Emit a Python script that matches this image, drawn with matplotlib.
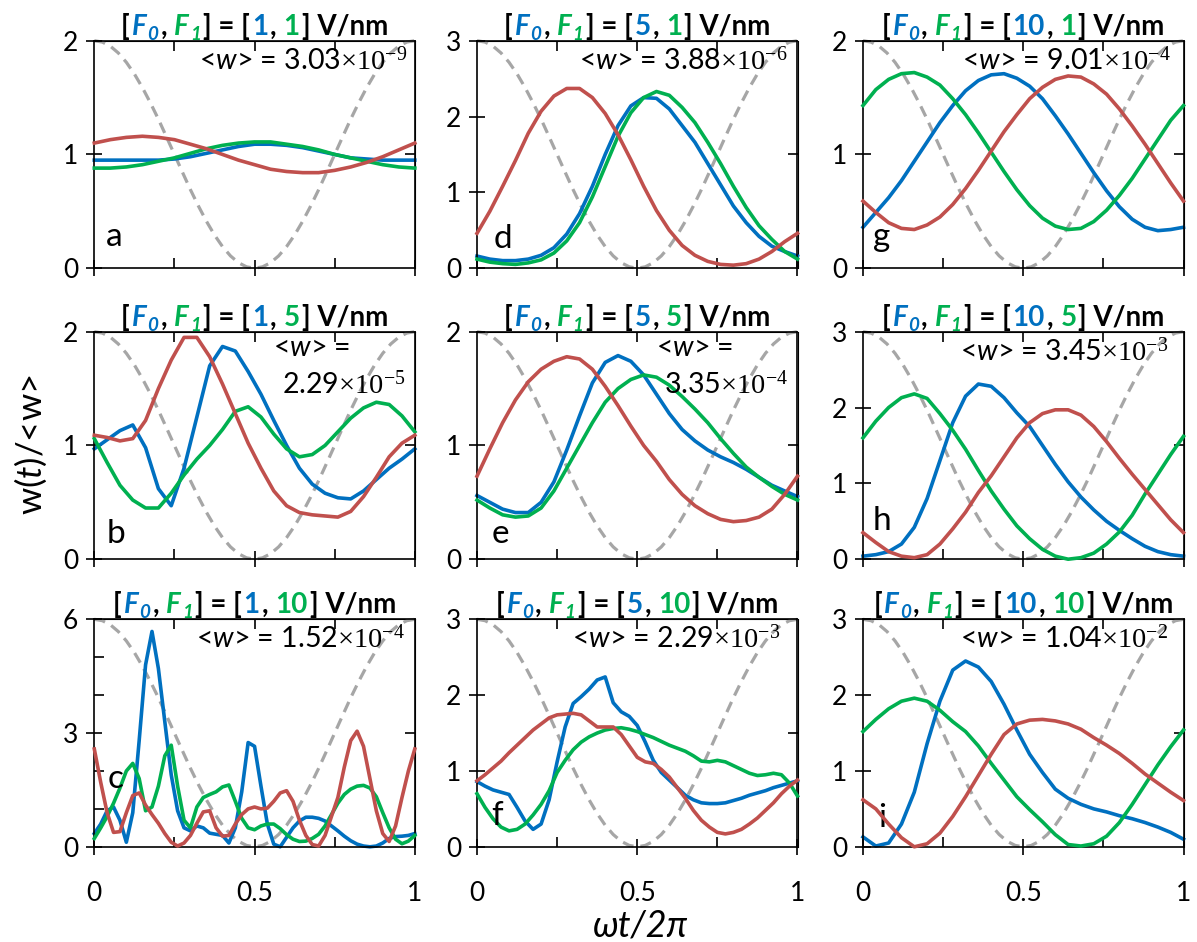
import numpy as np
import matplotlib
matplotlib.use('Agg')
import matplotlib.pyplot as plt
from matplotlib.transforms import IdentityTransform

plt.rcParams['font.family'] = ['Lato', 'Noto Sans', 'DejaVu Sans']
plt.rcParams['mathtext.fontset'] = 'custom'
plt.rcParams['mathtext.rm'] = 'Lato'
plt.rcParams['mathtext.it'] = 'Lato:italic'
plt.rcParams['mathtext.bf'] = 'Lato:bold'
plt.rcParams['mathtext.sf'] = 'Liberation Serif'

BLUE = '#0070C0'
GREEN = '#00B050'
RED = '#C0504D'
GREY = '#A6A6A6'

# x grids (fraction of the optical cycle)
xa = np.linspace(0, 1, 21)
x04 = np.linspace(0, 1, 26)
xc = np.linspace(0, 1, 51)
xf = np.linspace(0, 1, 41)

# field shape (grey dashed), normalised 0..1
field_x = np.linspace(0, 1, 41)
field_shape = [1.0, .994, .976, .946, .905, .854, .794, .727, .655, .578, .5,
               .422, .345, .273, .206, .146, .095, .054, .024, .006, 0.0,
               .006, .024, .054, .095, .146, .206, .273, .345, .422, .5,
               .578, .655, .727, .794, .854, .905, .946, .976, .994, 1.0]

# panel a  [1, 1]
a_blue = [0.95, 0.95, 0.95, 0.95, 0.95, 0.96, 0.98, 1.01, 1.04, 1.07, 1.09,
          1.09, 1.08, 1.06, 1.03, 1.00, 0.97, 0.96, 0.95, 0.95, 0.95]
a_green = [0.88, 0.88, 0.89, 0.91, 0.94, 0.97, 1.01, 1.05, 1.08, 1.10, 1.11,
           1.11, 1.09, 1.07, 1.04, 1.00, 0.97, 0.94, 0.91, 0.89, 0.88]
a_red = [1.10, 1.13, 1.15, 1.16, 1.15, 1.13, 1.09, 1.05, 1.00, 0.95, 0.91,
         0.87, 0.85, 0.84, 0.84, 0.86, 0.89, 0.93, 0.98, 1.04, 1.10]

# panel b  [1, 5]
b_blue = [0.97, 1.05, 1.13, 1.18, 0.98, 0.62, 0.47, 0.80, 1.25, 1.70, 1.87, 1.83, 1.65,
          1.45, 1.22, 1.00, 0.80, 0.66, 0.58, 0.54, 0.53, 0.60, 0.70, 0.80, 0.88, 0.97]
b_green = [1.06, 0.85, 0.65, 0.52, 0.45, 0.45, 0.58, 0.74, 0.88, 1.00, 1.14, 1.30, 1.34,
           1.25, 1.10, 0.97, 0.90, 0.92, 1.00, 1.12, 1.24, 1.33, 1.38, 1.36, 1.26, 1.12]
b_red = [1.09, 1.07, 1.04, 1.06, 1.22, 1.50, 1.75, 1.95, 1.95, 1.78, 1.54, 1.28, 1.02,
         0.80, 0.60, 0.47, 0.41, 0.39, 0.38, 0.37, 0.42, 0.55, 0.72, 0.90, 1.02, 1.09]

# panel c  [1, 10]
c_blue = [0.35, 0.60, 0.95, 1.05, 0.70, 0.12, 0.90, 2.80, 4.80, 5.68, 4.70, 3.30, 1.90,
          0.95, 0.50, 0.42, 0.55, 0.50, 0.36, 0.33, 0.30, 0.10, 0.50, 1.45, 2.75, 2.65,
          1.60, 0.60, 0.07, 0.00, 0.25, 0.50, 0.68, 0.78, 0.78, 0.75, 0.68, 0.55, 0.42,
          0.28, 0.16, 0.07, 0.02, 0.00, 0.02, 0.10, 0.22, 0.27, 0.28, 0.30, 0.35]
c_green = [0.22, 0.50, 0.80, 1.15, 1.55, 2.00, 2.20, 1.80, 0.95, 1.05, 1.60, 2.40, 2.68,
           1.60, 0.70, 0.50, 1.05, 1.30, 1.38, 1.45, 1.58, 1.63, 1.20, 0.75, 0.50, 0.45,
           0.55, 0.60, 0.60, 0.48, 0.32, 0.20, 0.14, 0.15, 0.22, 0.33, 0.55, 0.85, 1.15,
           1.38, 1.52, 1.60, 1.62, 1.55, 1.32, 0.90, 0.50, 0.20, 0.08, 0.15, 0.30]
c_red = [2.58, 1.70, 0.90, 0.38, 0.40, 0.90, 1.35, 1.42, 1.10, 0.85, 0.62, 0.35, 0.12,
         0.02, 0.10, 0.30, 0.62, 0.92, 0.95, 0.50, 0.28, 0.30, 0.60, 0.85, 1.00, 1.05,
         1.00, 1.02, 1.20, 1.42, 1.48, 1.20, 0.70, 0.30, 0.06, 0.02, 0.30, 0.80, 1.30,
         2.10, 2.80, 3.05, 2.65, 1.80, 0.95, 0.35, 0.14, 0.55, 1.30, 2.00, 2.58]

# panel d  [5, 1]
d_blue = [0.16, 0.12, 0.10, 0.10, 0.12, 0.17, 0.27, 0.45, 0.72, 1.08, 1.50, 1.88, 2.14,
          2.25, 2.24, 2.10, 1.88, 1.66, 1.38, 1.10, 0.82, 0.60, 0.42, 0.29, 0.22, 0.16]
d_green = [0.12, 0.08, 0.06, 0.05, 0.07, 0.11, 0.20, 0.36, 0.60, 0.94, 1.34, 1.74, 2.05,
           2.25, 2.33, 2.28, 2.12, 1.92, 1.66, 1.38, 1.08, 0.80, 0.56, 0.38, 0.22, 0.12]
d_red = [0.46, 0.75, 1.08, 1.42, 1.78, 2.07, 2.27, 2.37, 2.37, 2.25, 2.04, 1.76, 1.43,
         1.08, 0.76, 0.50, 0.30, 0.17, 0.09, 0.05, 0.04, 0.06, 0.12, 0.22, 0.35, 0.46]

# panel e  [5, 5]
e_blue = [0.56, 0.50, 0.44, 0.41, 0.41, 0.50, 0.68, 0.96, 1.26, 1.55, 1.73, 1.79, 1.74,
          1.62, 1.45, 1.28, 1.14, 1.04, 0.96, 0.90, 0.85, 0.79, 0.72, 0.65, 0.60, 0.55]
e_green = [0.52, 0.45, 0.39, 0.37, 0.38, 0.45, 0.60, 0.80, 1.00, 1.20, 1.38, 1.50, 1.58,
           1.62, 1.60, 1.53, 1.43, 1.32, 1.20, 1.06, 0.93, 0.81, 0.72, 0.64, 0.57, 0.52]
e_red = [0.73, 0.97, 1.20, 1.40, 1.56, 1.67, 1.74, 1.78, 1.76, 1.67, 1.52, 1.35, 1.17,
         1.00, 0.86, 0.70, 0.57, 0.47, 0.40, 0.35, 0.33, 0.34, 0.37, 0.44, 0.57, 0.73]

# panel f  [5, 10]
f_blue = [0.86, 0.80, 0.75, 0.72, 0.69, 0.52, 0.34, 0.23, 0.30, 0.62, 1.12, 1.58, 1.89,
          1.98, 2.08, 2.20, 2.24, 1.90, 1.78, 1.72, 1.60, 1.38, 1.14, 0.98, 0.88, 0.78,
          0.68, 0.62, 0.58, 0.57, 0.57, 0.58, 0.61, 0.64, 0.68, 0.71, 0.74, 0.78, 0.81,
          0.84, 0.87]
f_green = [0.70, 0.52, 0.37, 0.26, 0.21, 0.23, 0.30, 0.42, 0.56, 0.74, 0.98, 1.14, 1.28,
           1.38, 1.45, 1.50, 1.54, 1.56, 1.57, 1.55, 1.52, 1.48, 1.44, 1.39, 1.34, 1.30,
           1.26, 1.20, 1.13, 1.12, 1.14, 1.12, 1.07, 1.02, 0.97, 0.94, 0.95, 0.97, 0.95,
           0.84, 0.67]
f_red = [0.87, 0.95, 1.04, 1.13, 1.24, 1.34, 1.44, 1.54, 1.62, 1.70, 1.74, 1.75, 1.76,
         1.74, 1.66, 1.58, 1.58, 1.58, 1.48, 1.33, 1.18, 1.12, 1.10, 1.02, 0.92, 0.78,
         0.64, 0.48, 0.35, 0.26, 0.19, 0.17, 0.19, 0.23, 0.30, 0.38, 0.48, 0.58, 0.70,
         0.80, 0.88]

# panel g  [10, 1]
g_blue = [0.36, 0.49, 0.62, 0.77, 0.94, 1.11, 1.28, 1.43, 1.56, 1.65, 1.70, 1.71, 1.67,
          1.60, 1.49, 1.34, 1.18, 1.01, 0.84, 0.68, 0.54, 0.43, 0.36, 0.33, 0.34, 0.36]
g_green = [1.43, 1.57, 1.66, 1.71, 1.72, 1.68, 1.61, 1.49, 1.35, 1.19, 1.02, 0.85, 0.69,
           0.55, 0.44, 0.37, 0.34, 0.35, 0.41, 0.51, 0.64, 0.79, 0.96, 1.13, 1.30, 1.43]
g_red = [0.59, 0.49, 0.40, 0.35, 0.34, 0.38, 0.45, 0.56, 0.70, 0.86, 1.03, 1.20, 1.35,
         1.49, 1.59, 1.66, 1.69, 1.68, 1.62, 1.53, 1.40, 1.25, 1.09, 0.92, 0.75, 0.59]

# panel h  [10, 5]
h_blue = [0.04, 0.06, 0.10, 0.20, 0.42, 0.80, 1.30, 1.80, 2.15, 2.31, 2.28, 2.13, 1.93,
          1.75, 1.50, 1.25, 1.02, 0.82, 0.65, 0.50, 0.38, 0.27, 0.17, 0.10, 0.06, 0.04]
h_green = [1.60, 1.82, 2.00, 2.13, 2.18, 2.12, 1.92, 1.70, 1.45, 1.17, 0.90, 0.66, 0.44,
           0.27, 0.13, 0.04, 0.00, 0.02, 0.08, 0.20, 0.36, 0.58, 0.86, 1.12, 1.38, 1.62]
h_red = [0.35, 0.22, 0.10, 0.04, 0.02, 0.06, 0.20, 0.40, 0.62, 0.88, 1.10, 1.35, 1.60,
         1.80, 1.92, 1.97, 1.97, 1.90, 1.75, 1.55, 1.33, 1.12, 0.92, 0.72, 0.52, 0.35]

# panel i  [10, 10]
i_blue = [0.13, 0.01, 0.05, 0.30, 0.72, 1.36, 1.92, 2.33, 2.45, 2.37, 2.18, 1.88, 1.54,
          1.22, 0.98, 0.76, 0.64, 0.56, 0.50, 0.46, 0.41, 0.37, 0.32, 0.26, 0.19, 0.10]
i_green = [1.52, 1.68, 1.82, 1.92, 1.96, 1.92, 1.80, 1.65, 1.52, 1.33, 1.10, 0.88, 0.66,
           0.49, 0.33, 0.16, 0.03, 0.01, 0.04, 0.14, 0.32, 0.56, 0.82, 1.08, 1.32, 1.54]
i_red = [0.62, 0.50, 0.30, 0.12, 0.00, 0.04, 0.18, 0.40, 0.66, 0.94, 1.22, 1.48, 1.62,
         1.67, 1.68, 1.66, 1.62, 1.55, 1.44, 1.34, 1.23, 1.10, 0.96, 0.84, 0.72, 0.61]

# panel info
letters = ['a', 'b', 'c', 'd', 'e', 'f', 'g', 'h', 'i']
fields = [(1, 1), (1, 5), (1, 10), (5, 1), (5, 5), (5, 10), (10, 1), (10, 5), (10, 10)]
w_mean = [('3.03', '-9'), ('2.29', '-5'), ('1.52', '-4'), ('3.88', '-6'), ('3.35', '-4'),
          ('2.29', '-3'), ('9.01', '-4'), ('3.45', '-3'), ('1.04', '-2')]
y_max = [2, 2, 6, 3, 2, 3, 2, 3, 3]

panels = [
    (xa, a_blue, a_green, a_red), (x04, b_blue, b_green, b_red), (xc, c_blue, c_green, c_red),
    (x04, d_blue, d_green, d_red), (x04, e_blue, e_green, e_red), (xf, f_blue, f_green, f_red),
    (x04, g_blue, g_green, g_red), (x04, h_blue, h_green, h_red), (x04, i_blue, i_green, i_red),
]

letter_pos = [(0.036, 0.096), (0.04, 0.07), (0.043, 0.26), (0.053, 0.09), (0.047, 0.07),
              (0.044, 0.096), (0.031, 0.096), (0.031, 0.13), (0.047, 0.089)]
ann_x = [0.978, 0.97, 0.969, 0.969, 0.969, 0.947, 0.959, 0.953, 0.953]

W, H = 1197, 942
fig = plt.figure(figsize=(W / 100, H / 100), dpi=100)
renderer = fig.canvas.get_renderer()

col_left = [94.3, 477.0, 863.0]
col_w = 320.5
row_top = [40.7, 331.7, 619.3]
row_h = 227.5

TS = 20  # title size
AS = 20.5  # <w> annotation size


def draw_title(cx, y, f0, f1):
    pieces = [('[', 'k', 'normal', 1, 0, 0),
              ('F', BLUE, 'italic', 1, 2, 0),
              ('0', BLUE, 'italic', 0.68, 1, -5),
              (',', 'k', 'normal', 1, 2, 0),
              ('F', GREEN, 'italic', 1, 7, 0),
              ('1', GREEN, 'italic', 0.68, 1, -5),
              ('] = [', 'k', 'normal', 1, 2, 0),
              (str(f0), BLUE, 'normal', 1, 2, 0),
              (',', 'k', 'normal', 1, 2, 0),
              (str(f1), GREEN, 'normal', 1, 7, 0),
              ('] V/nm', 'k', 'normal', 1, 2, 0)]
    texts, widths = [], []
    for s, c, st, sc, gap, dy in pieces:
        t = fig.text(0, 0, s, transform=IdentityTransform(), color=c, fontsize=TS * sc,
                     fontweight='bold', fontstyle=st, ha='left', va='baseline')
        texts.append(t)
        widths.append(t.get_window_extent(renderer).width)
    total = sum(widths) + sum(p[4] for p in pieces)
    x = cx - total / 2
    for t, w, p in zip(texts, widths, pieces):
        x += p[4]
        t.set_position((x, y + p[5]))
        x += w


for k in range(9):
    col, row = k // 3, k % 3
    left, top = col_left[col], row_top[row]
    ax = fig.add_axes([left / W, 1 - (top + row_h) / H, col_w / W, row_h / H])
    xs, yb, yg, yr = panels[k]
    ym = y_max[k]

    ax.plot(field_x, np.array(field_shape) * ym, color=GREY, lw=2.3,
            linestyle=(0, (3.5, 2.2)), clip_on=False, zorder=1)
    ax.plot(xs, yb, color=BLUE, lw=2.6, clip_on=False, zorder=2)
    ax.plot(xs, yg, color=GREEN, lw=2.6, clip_on=False, zorder=3)
    ax.plot(xs, yr, color=RED, lw=2.6, clip_on=False, zorder=4)

    ax.set_xlim(0, 1)
    ax.set_ylim(0, ym)
    ax.set_xticks([0, 0.5, 1])
    ax.set_xticklabels(['0', '0.5', '1'])
    ax.set_xticks([0.25, 0.75], minor=True)
    if ym == 6:
        ax.set_yticks([0, 3, 6])
        ax.set_yticks([1, 2, 4, 5], minor=True)
    else:
        ax.set_yticks(list(range(ym + 1)))
    ax.set_yticklabels([str(v) for v in ax.get_yticks().astype(int)])
    ax.tick_params(axis='both', which='major', direction='inout', length=11, width=1.2,
                   labelsize=19, color='k')
    ax.tick_params(axis='both', which='minor', direction='in', length=7, width=1.2)
    ax.tick_params(axis='x', pad=19, labelbottom=(row == 2))
    ax.tick_params(axis='y', pad=6)
    for sp in ax.spines.values():
        sp.set_linewidth(1.2)

    sx = ax.secondary_xaxis('top')
    sx.set_xticks([0.25, 0.5, 0.75])
    sx.set_xticklabels([])
    sx.tick_params(direction='in', length=7, width=1.2)
    sy = ax.secondary_yaxis('right')
    sy.set_yticks([ym / 2])
    sy.set_yticklabels([])
    sy.tick_params(direction='in', length=7, width=1.2)

    # panel letter
    lx, ly = letter_pos[k]
    ax.text(lx, ly, letters[k], transform=ax.transAxes, fontsize=24, va='baseline', ha='left')

    # mean rate
    mant, ex = w_mean[k]
    num = mant + r'$\mathsf{\times10^{' + ex + '}}$'
    if letters[k] in ('b', 'e'):
        ax.text(0.80, 0.893, r'<$\mathit{w}$> =', transform=ax.transAxes, fontsize=AS,
                ha='right', va='baseline')
        ax.text(0.97, 0.729, num, transform=ax.transAxes, fontsize=AS,
                ha='right', va='baseline')
    else:
        ax.text(ann_x[k], 0.875, r'<$\mathit{w}$> = ' + num, transform=ax.transAxes,
                fontsize=AS, ha='right', va='baseline')

    draw_title(left + col_w / 2, H - (top - 6), *fields[k])

fig.text(31 / W, 1 - 445 / H, r'w($\mathit{t}$)/<w>', rotation=90, fontsize=25,
         ha='center', va='center')
fig.text(640 / W, 1 - 937 / H, 'ωt/2π', fontsize=26, fontstyle='italic',
         ha='center', va='baseline')

fig.savefig('out.png', dpi=100)
